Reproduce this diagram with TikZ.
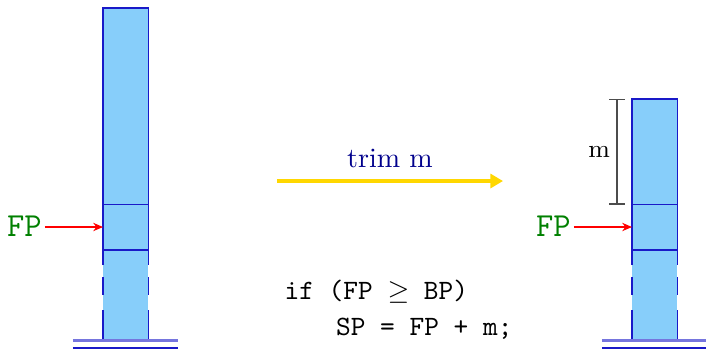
\documentclass[tikz,border=0pt]{standalone}
\usetikzlibrary{arrows.meta,positioning}
\definecolor{cellfill}{RGB}{135,206,250}
\definecolor{celledge}{RGB}{25,25,200}
\definecolor{regcol}{RGB}{0,128,0}
\definecolor{trimcol}{RGB}{0,0,140}
\definecolor{movecol}{RGB}{255,215,0}

\begin{document}
\begin{tikzpicture}[x=0.357pt,y=-0.357pt,
    edge/.style={celledge,semithick},
    ptr/.style={red,-{Stealth[length=3.5pt,width=3pt]}},
    reg/.style={font=\ttfamily\large,text=regcol,inner sep=1pt},
    code/.style={font=\ttfamily,inner sep=0pt,anchor=base west}]
  \useasboundingbox (0,0) rectangle (706,349);
  % the two stacks, before and after
  \foreach \s/\x/\t in {l/103/8,r/632/99}{
    \fill[cellfill] (\x,\t) rectangle (\x+45.5,340);
    \draw[edge] (\x,265) -- (\x,\t) -- (\x+45.5,\t) -- (\x+45.5,265);
    \draw[edge] (\x,277) -- (\x,295) (\x+45.5,277) -- (\x+45.5,295);
    \draw[edge] (\x,310) -- (\x,340) (\x+45.5,310) -- (\x+45.5,340);
    \draw[edge] (\x,204.5) -- (\x+45.5,204.5) (\x,250) -- (\x+45.5,250);
    \draw[celledge!60,line width=0.8pt] (\x-30,340.5) -- (\x+75.5,340.5);
    \draw[edge] (\x-30,348) -- (\x+75.5,348);
    \coordinate (fp\s) at (\x,227);
  }
  % frame pointers
  \node[reg,anchor=east] (regl) at (45,226) {FP};
  \node[reg,anchor=east] (regr) at (574,226) {FP};
  \draw[ptr] (regl.east |- fpl) -- (fpl);
  \draw[ptr] (regr.east |- fpr) -- (fpr);
  % size of the trimmed part
  \coordinate (mtop) at (617,99);
  \coordinate (mbot) at (617,204.5);
  \draw[black!70,{Bar[width=5.4pt]}-{Bar[width=5.4pt]}] (mtop) -- node[left=-1pt,text=black,font=\small] {m} (mbot);
  % the operation
  \coordinate (trimA) at (277,181);
  \coordinate (trimB) at (503,181);
  \draw[movecol,line width=1.1pt,-{Triangle[length=4.5pt,width=5pt]}] (trimA) -- node[above=0.8pt,text=trimcol] {trim m} (trimB);
  \node[code] (ifline) at (284,299) {if (FP $\geq$ BP)};
  \node[code] (setline) at ([xshift=18.4pt,yshift=-12.9pt]ifline.base west) {SP = FP + m;};
\end{tikzpicture}
\end{document}
